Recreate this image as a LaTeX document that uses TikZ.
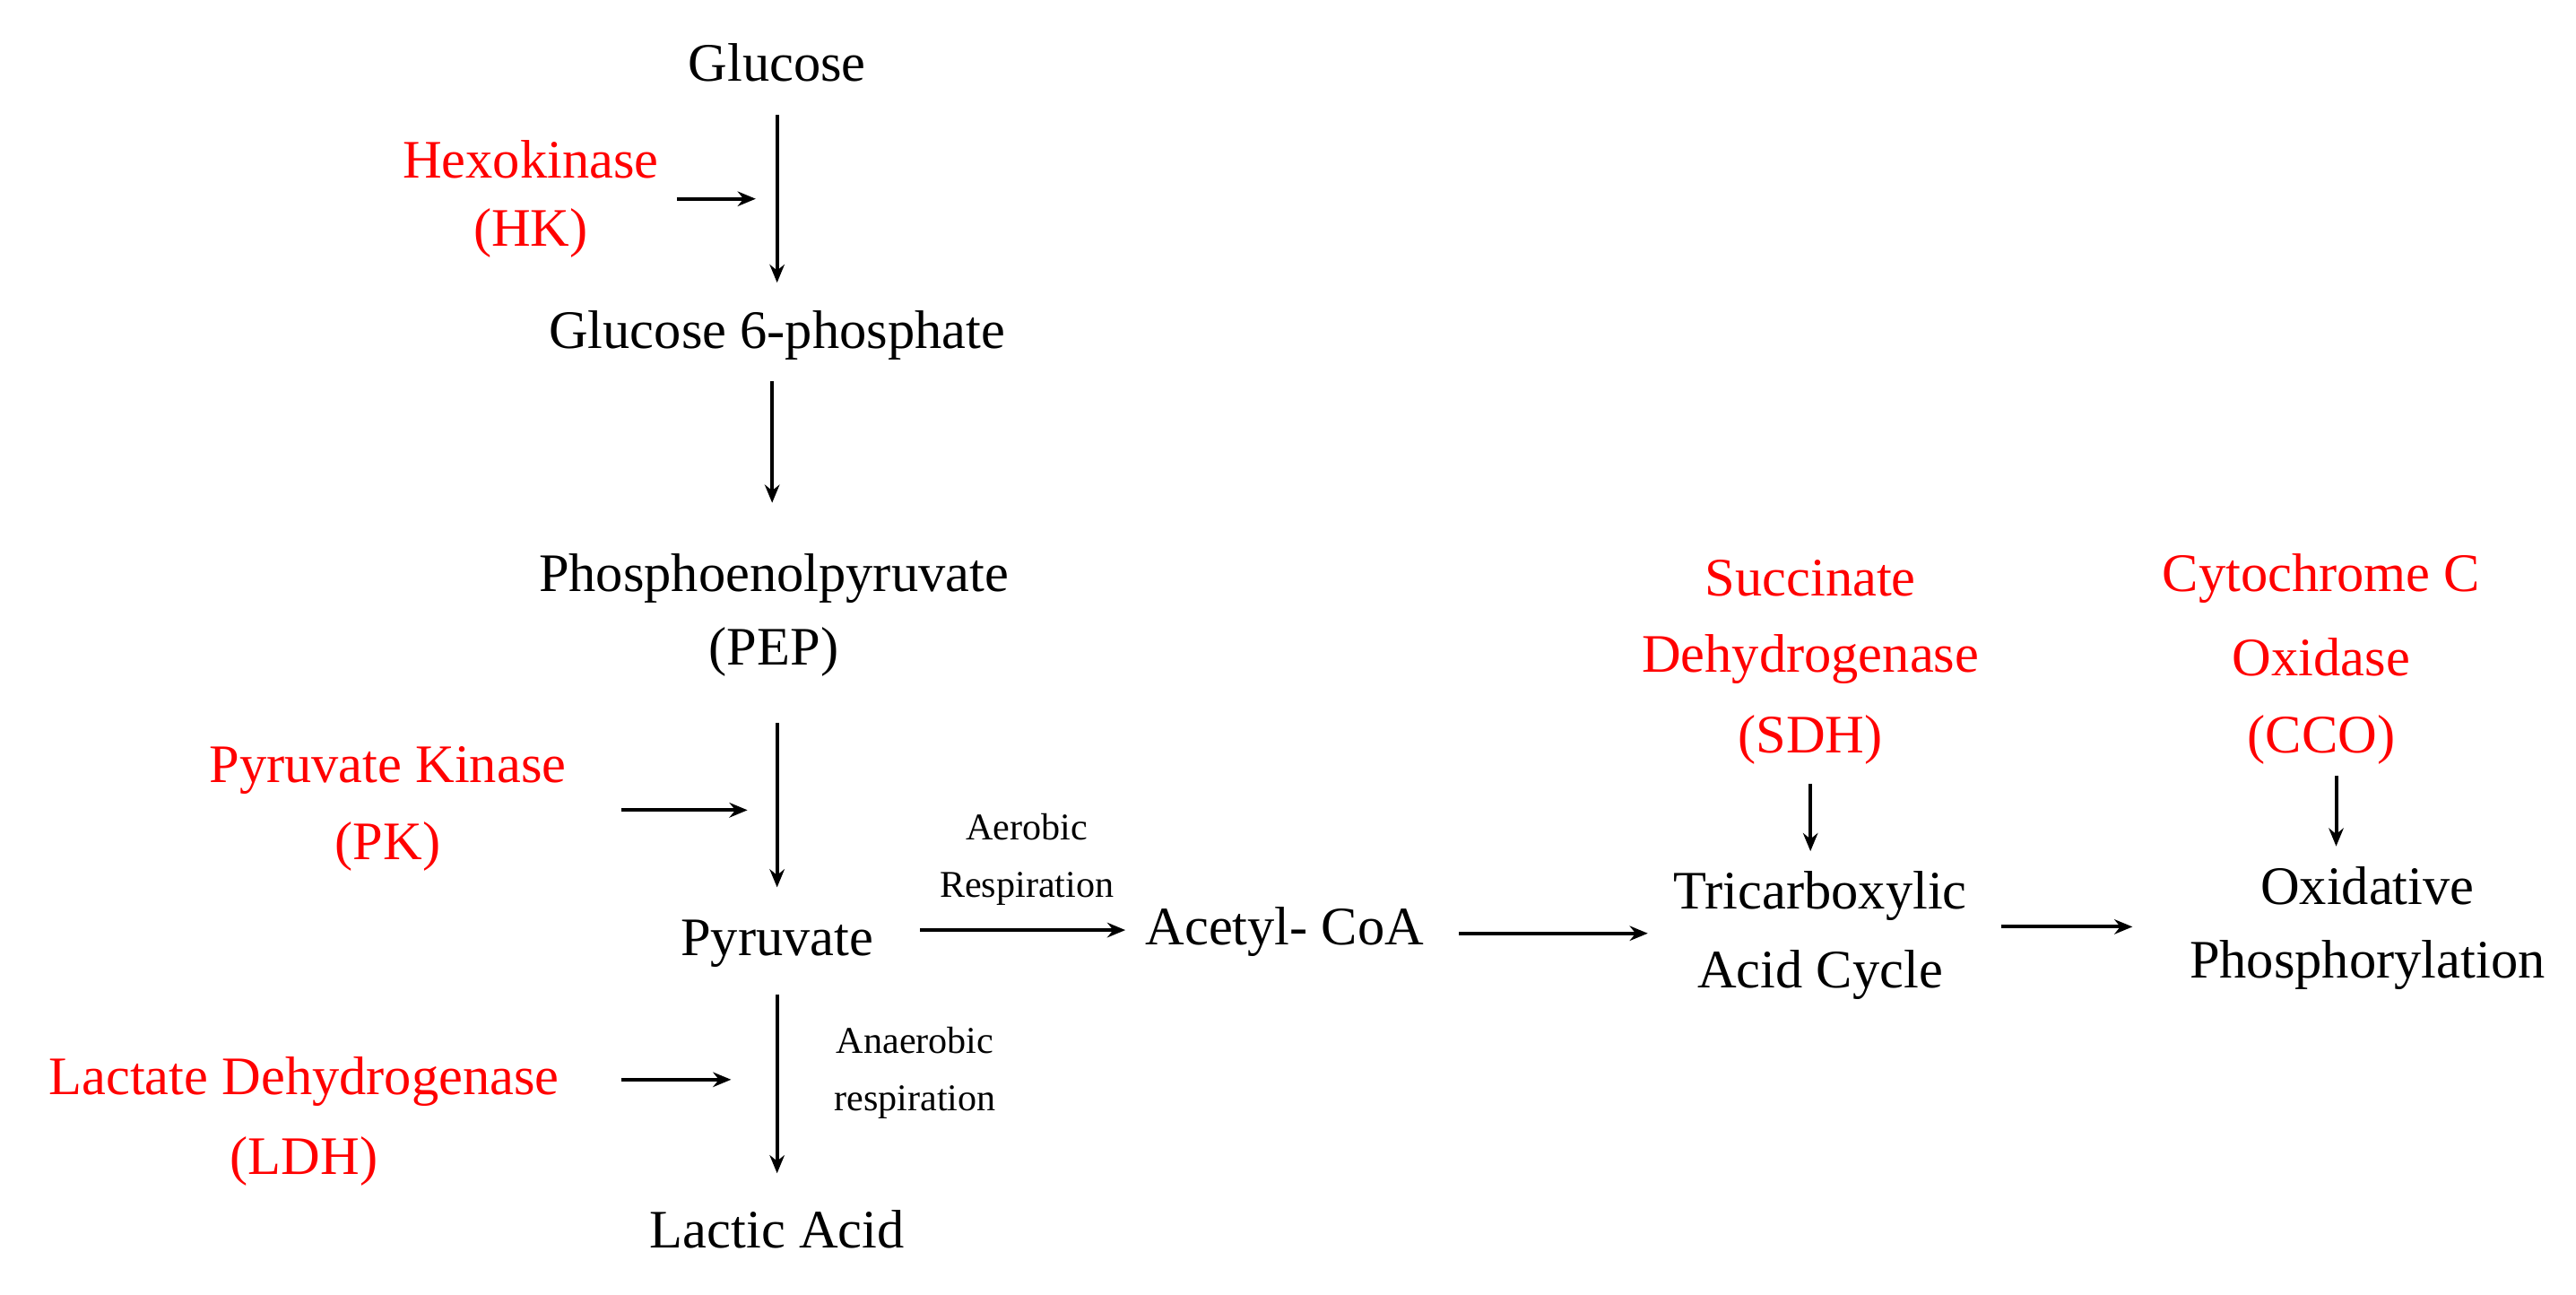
\documentclass[tikz,border=0pt]{standalone}
\usepackage{fontspec}
\setmainfont{Liberation Serif}
\usetikzlibrary{arrows.meta}
\begin{document}
\begin{tikzpicture}[x=1pt,y=-1pt,
  t/.style={font=\fontsize{33}{38}\selectfont,inner sep=0pt},
  r/.style={t,text=red},
  s/.style={font=\fontsize{23}{28}\selectfont,inner sep=0pt},
  a/.style={line width=2.2pt,-{Stealth[length=11pt,width=9pt]}}]
\useasboundingbox (0,0) rectangle (1568,788);
\node[t] (glc) at (473,38) {Glucose};
\node[r] (hk1) at (323,97) {Hexokinase};
\node[r] (hk2) at (323,142) {(HK)};
\node[t] (g6p) at (473,204) {Glucose 6-phosphate};
\node[t] (pep1) at (471,352) {Phosphoenolpyruvate};
\node[t] (pep2) at (471,397) {(PEP)};
\node[r] (pk1) at (236,469) {Pyruvate Kinase};
\node[r] (pk2) at (236,515) {(PK)};
\node[t] (pyr) at (473,574) {Pyruvate};
\node[s] (aer1) at (625,503) {Aerobic};
\node[s] (aer2) at (625,541) {Respiration};
\node[t] (aco) at (782,567) {Acetyl- CoA};
\node[t] (tca1) at (1108,545) {Tricarboxylic};
\node[t] (tca2) at (1108,593) {Acid Cycle};
\node[t] (ox1) at (1441,539) {Oxidative};
\node[t] (ox2) at (1441,587) {Phosphorylation};
\node[r] (sdh1) at (1102,352) {Succinate};
\node[r] (sdh2) at (1102,401) {Dehydrogenase};
\node[r] (sdh3) at (1102,450) {(SDH)};
\node[r] (cco1) at (1413,352) {Cytochrome C};
\node[r] (cco2) at (1413,400) {Oxidase};
\node[r] (cco3) at (1413,450) {(CCO)};
\node[s] (ana1) at (557,633) {Anaerobic};
\node[s] (ana2) at (557,671) {respiration};
\node[r] (ldh1) at (185,658) {Lactate Dehydrogenase};
\node[r] (ldh2) at (185,707) {(LDH)};
\node[t] (lac) at (473,748) {Lactic Acid};
% coordinates
\coordinate (c1a) at (473,70); \coordinate (c1b) at (473,172);
\coordinate (h1) at (412,121); \coordinate (h2) at (460,121);
\coordinate (c2a) at (470,232); \coordinate (c2b) at (470,306);
\coordinate (c3a) at (473,440); \coordinate (c3b) at (473,540);
\coordinate (p1) at (378,493); \coordinate (p2) at (455,493);
\coordinate (c4a) at (473,605); \coordinate (c4b) at (473,714);
\coordinate (l1) at (378,657); \coordinate (l2) at (445,657);
\coordinate (e1) at (560,566); \coordinate (e2) at (685,566);
\coordinate (e3) at (888,568); \coordinate (e4) at (1003,568);
\coordinate (e5) at (1218,564); \coordinate (e6) at (1298,564);
\coordinate (s1) at (1102,477); \coordinate (s2) at (1102,518);
\coordinate (k1) at (1422,472); \coordinate (k2) at (1422,515);
\foreach \u/\v in {c1a/c1b,h1/h2,c2a/c2b,c3a/c3b,p1/p2,c4a/c4b,l1/l2,e1/e2,e3/e4,e5/e6,s1/s2,k1/k2}
  \draw[a] (\u) -- (\v);
\end{tikzpicture}
\end{document}
